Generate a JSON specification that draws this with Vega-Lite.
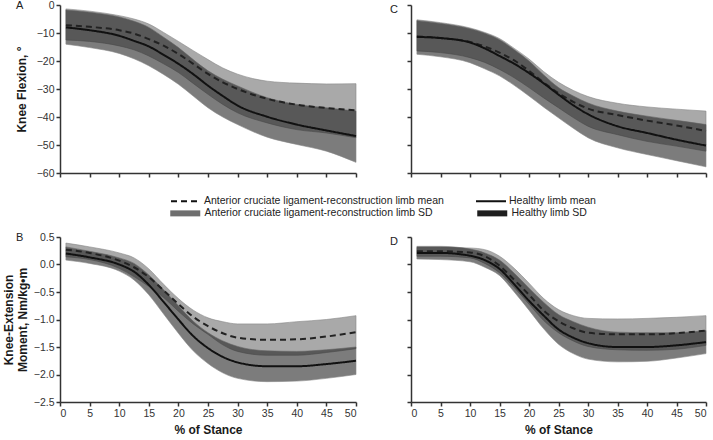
{
  "$schema": "https://vega.github.io/schema/vega-lite/v6.json",
  "padding": {"left": 2, "top": 0, "right": 0, "bottom": 0},
  "background": "white",
  "config": {
    "view": {"stroke": null},
    "font": "Liberation Sans",
    "axis": {"domainColor": "#333333", "domainWidth": 1.5, "tickColor": "#333333", "tickWidth": 1.5, "tickSize": 4, "labelFont": "Liberation Sans", "labelFontSize": 10.5, "labelColor": "#333333", "labelPadding": 2, "labelOverlap": false, "titleFont": "Liberation Sans", "titleFontSize": 12, "titleFontWeight": "bold", "titleColor": "#1a1a1a", "grid": false},
    "axisX": {"titlePadding": 6},
    "title": {"font": "Liberation Sans", "color": "#222222"},
    "legend": {"labelFont": "Liberation Sans", "labelFontSize": 10.5, "labelColor": "#222222", "labelLimit": 400, "symbolSize": 100, "labelOffset": 22, "rowPadding": 2}
  },
  "data": {"values": [
    {"panel":"A","x":1,"ahi":-1.4,"am":-7.2,"alo":-12.5,"hhi":-1.8,"hm":-8,"hlo":-14},
    {"panel":"A","x":5,"ahi":-2.2,"am":-7.8,"alo":-13,"hhi":-2.6,"hm":-9,"hlo":-15.2},
    {"panel":"A","x":10,"ahi":-3.8,"am":-9,"alo":-14.6,"hhi":-4.3,"hm":-11,"hlo":-17.3},
    {"panel":"A","x":12.5,"ahi":-5,"am":-10.2,"alo":-16,"hhi":-5.8,"hm":-12.8,"hlo":-19.2},
    {"panel":"A","x":15,"ahi":-6.8,"am":-12.2,"alo":-18.2,"hhi":-8,"hm":-14.8,"hlo":-21.7},
    {"panel":"A","x":17.5,"ahi":-9.8,"am":-14.5,"alo":-21,"hhi":-11.5,"hm":-17.8,"hlo":-24.8},
    {"panel":"A","x":20,"ahi":-13,"am":-17.5,"alo":-24.1,"hhi":-15.2,"hm":-21,"hlo":-28.3},
    {"panel":"A","x":22.5,"ahi":-16.3,"am":-21,"alo":-28,"hhi":-19.5,"hm":-24.7,"hlo":-32.5},
    {"panel":"A","x":25,"ahi":-19.5,"am":-24.6,"alo":-31.9,"hhi":-23.5,"hm":-28.8,"hlo":-36.7},
    {"panel":"A","x":27.5,"ahi":-22.5,"am":-27.6,"alo":-35.5,"hhi":-26.5,"hm":-32.5,"hlo":-40},
    {"panel":"A","x":30,"ahi":-24.7,"am":-30,"alo":-38.5,"hhi":-28.9,"hm":-35.9,"hlo":-42.7},
    {"panel":"A","x":35,"ahi":-27.2,"am":-33.5,"alo":-42.1,"hhi":-33.1,"hm":-39.9,"hlo":-47.2},
    {"panel":"A","x":40,"ahi":-27.9,"am":-35.6,"alo":-44.5,"hhi":-35.5,"hm":-42.7,"hlo":-49.8},
    {"panel":"A","x":45,"ahi":-28.2,"am":-36.8,"alo":-45.7,"hhi":-36.7,"hm":-44.8,"hlo":-52.2},
    {"panel":"A","x":50,"ahi":-28.1,"am":-37.6,"alo":-47.4,"hhi":-37.9,"hm":-46.8,"hlo":-56.2},
    {"panel":"C","x":1,"ahi":-5.3,"am":-11.2,"alo":-16.4,"hhi":-5.6,"hm":-11.4,"hlo":-17.6},
    {"panel":"C","x":5,"ahi":-6.3,"am":-11.8,"alo":-17,"hhi":-6.6,"hm":-11.8,"hlo":-18.5},
    {"panel":"C","x":10,"ahi":-8.2,"am":-13.2,"alo":-18.8,"hhi":-8.5,"hm":-13.4,"hlo":-20.6},
    {"panel":"C","x":12.5,"ahi":-9.8,"am":-14.8,"alo":-20.5,"hhi":-10.1,"hm":-15.5,"hlo":-22.8},
    {"panel":"C","x":15,"ahi":-12,"am":-17,"alo":-23,"hhi":-12.4,"hm":-18.2,"hlo":-25.3},
    {"panel":"C","x":17.5,"ahi":-15.5,"am":-19.8,"alo":-26,"hhi":-16,"hm":-21,"hlo":-28.7},
    {"panel":"C","x":20,"ahi":-19.3,"am":-23.5,"alo":-29.5,"hhi":-20,"hm":-24.3,"hlo":-32.5},
    {"panel":"C","x":22.5,"ahi":-23.8,"am":-27.7,"alo":-33.2,"hhi":-25,"hm":-28,"hlo":-36.5},
    {"panel":"C","x":25,"ahi":-27.6,"am":-31.5,"alo":-36.7,"hhi":-29.5,"hm":-32,"hlo":-40.3},
    {"panel":"C","x":27.5,"ahi":-30.5,"am":-34.6,"alo":-40.2,"hhi":-32.5,"hm":-35.8,"hlo":-44},
    {"panel":"C","x":30,"ahi":-32.7,"am":-37,"alo":-43.3,"hhi":-35,"hm":-39,"hlo":-47.4},
    {"panel":"C","x":35,"ahi":-35.1,"am":-39.3,"alo":-46.3,"hhi":-37.9,"hm":-43.3,"hlo":-51},
    {"panel":"C","x":40,"ahi":-36.4,"am":-41.3,"alo":-48.7,"hhi":-39.7,"hm":-45.7,"hlo":-53.4},
    {"panel":"C","x":45,"ahi":-37.2,"am":-43,"alo":-50.4,"hhi":-41.2,"hm":-48.1,"hlo":-55.6},
    {"panel":"C","x":50,"ahi":-37.9,"am":-45,"alo":-52.2,"hhi":-42.7,"hm":-50.2,"hlo":-57.8},
    {"panel":"B","x":1,"ahi":0.39,"am":0.27,"alo":0.14,"hhi":0.32,"hm":0.2,"hlo":0.08},
    {"panel":"B","x":5,"ahi":0.32,"am":0.21,"alo":0.09,"hhi":0.24,"hm":0.13,"hlo":0.02},
    {"panel":"B","x":10,"ahi":0.21,"am":0.07,"alo":-0.07,"hhi":0.12,"hm":0,"hlo":-0.12},
    {"panel":"B","x":12.5,"ahi":0.12,"am":-0.05,"alo":-0.22,"hhi":0.02,"hm":-0.13,"hlo":-0.28},
    {"panel":"B","x":15,"ahi":-0.08,"am":-0.23,"alo":-0.4,"hhi":-0.19,"hm":-0.37,"hlo":-0.55},
    {"panel":"B","x":17.5,"ahi":-0.36,"am":-0.47,"alo":-0.6,"hhi":-0.46,"hm":-0.68,"hlo":-0.9},
    {"panel":"B","x":20,"ahi":-0.62,"am":-0.72,"alo":-0.85,"hhi":-0.75,"hm":-1,"hlo":-1.25},
    {"panel":"B","x":22.5,"ahi":-0.83,"am":-0.95,"alo":-1.08,"hhi":-1.03,"hm":-1.3,"hlo":-1.57},
    {"panel":"B","x":25,"ahi":-0.97,"am":-1.12,"alo":-1.27,"hhi":-1.24,"hm":-1.52,"hlo":-1.8},
    {"panel":"B","x":27.5,"ahi":-1.04,"am":-1.25,"alo":-1.46,"hhi":-1.39,"hm":-1.68,"hlo":-1.97},
    {"panel":"B","x":30,"ahi":-1.08,"am":-1.33,"alo":-1.58,"hhi":-1.49,"hm":-1.78,"hlo":-2.07},
    {"panel":"B","x":35,"ahi":-1.08,"am":-1.37,"alo":-1.65,"hhi":-1.57,"hm":-1.85,"hlo":-2.13},
    {"panel":"B","x":40,"ahi":-1.04,"am":-1.36,"alo":-1.65,"hhi":-1.58,"hm":-1.85,"hlo":-2.12},
    {"panel":"B","x":45,"ahi":-1,"am":-1.31,"alo":-1.6,"hhi":-1.55,"hm":-1.81,"hlo":-2.07},
    {"panel":"B","x":50,"ahi":-0.93,"am":-1.23,"alo":-1.53,"hhi":-1.5,"hm":-1.75,"hlo":-2},
    {"panel":"D","x":1,"ahi":0.31,"am":0.24,"alo":0.15,"hhi":0.33,"hm":0.21,"hlo":0.1},
    {"panel":"D","x":5,"ahi":0.31,"am":0.24,"alo":0.15,"hhi":0.33,"hm":0.21,"hlo":0.09},
    {"panel":"D","x":10,"ahi":0.3,"am":0.22,"alo":0.12,"hhi":0.28,"hm":0.16,"hlo":0.05},
    {"panel":"D","x":12.5,"ahi":0.27,"am":0.15,"alo":0.02,"hhi":0.21,"hm":0.08,"hlo":-0.05},
    {"panel":"D","x":15,"ahi":0.15,"am":-0.02,"alo":-0.15,"hhi":0.08,"hm":-0.08,"hlo":-0.2},
    {"panel":"D","x":17.5,"ahi":-0.07,"am":-0.28,"alo":-0.42,"hhi":-0.16,"hm":-0.36,"hlo":-0.5},
    {"panel":"D","x":20,"ahi":-0.34,"am":-0.55,"alo":-0.72,"hhi":-0.43,"hm":-0.66,"hlo":-0.83},
    {"panel":"D","x":22.5,"ahi":-0.62,"am":-0.84,"alo":-1.02,"hhi":-0.69,"hm":-0.93,"hlo":-1.17},
    {"panel":"D","x":25,"ahi":-0.82,"am":-1.03,"alo":-1.24,"hhi":-0.91,"hm":-1.18,"hlo":-1.45},
    {"panel":"D","x":27.5,"ahi":-0.93,"am":-1.16,"alo":-1.39,"hhi":-1.04,"hm":-1.33,"hlo":-1.62},
    {"panel":"D","x":30,"ahi":-0.98,"am":-1.24,"alo":-1.49,"hhi":-1.14,"hm":-1.43,"hlo":-1.72},
    {"panel":"D","x":35,"ahi":-0.99,"am":-1.27,"alo":-1.55,"hhi":-1.23,"hm":-1.5,"hlo":-1.77},
    {"panel":"D","x":40,"ahi":-0.98,"am":-1.27,"alo":-1.56,"hhi":-1.24,"hm":-1.5,"hlo":-1.76},
    {"panel":"D","x":45,"ahi":-0.96,"am":-1.25,"alo":-1.54,"hhi":-1.24,"hm":-1.47,"hlo":-1.7},
    {"panel":"D","x":50,"ahi":-0.93,"am":-1.2,"alo":-1.47,"hhi":-1.2,"hm":-1.41,"hlo":-1.62}
  ]},
  "columns": 2,
  "spacing": {"column": 55, "row": 64},
  "bounds": "flush",
  "resolve": {"scale": {"x": "independent", "y": "independent", "fill": "shared", "strokeDash": "shared"}},
  "concat": [
    {
      "width": 296, "height": 168,
      "title": {"text": "A", "anchor": "start", "frame": "group", "dx": -44, "dy": 17, "fontSize": 11, "fontWeight": "normal", "baseline": "middle", "offset": 0},
      "transform": [{"filter": {"field": "panel", "equal": "A"}}],
      "encoding": {"x": {"field": "x", "type": "quantitative", "scale": {"domain": [0, 50], "nice": false, "zero": false}, "axis": {"values": [0,5,10,15,20,25,30,35,40,45,50], "labels": false, "title": null}}},
      "layer": [
        {"mark": {"type": "area", "interpolate": "monotone", "opacity": 0.59, "stroke": "#333333", "strokeWidth": 0.6},
         "encoding": {
           "y": {"field": "alo", "type": "quantitative", "scale": {"domain": [-60, 0], "nice": false}, "axis": {"values": [-60,-50,-40,-30,-20,-10,0], "labelOverlap": false, "title": "Knee Flexion, °", "titlePadding": 8}},
           "y2": {"field": "ahi"},
           "fill": {"datum": "Anterior cruciate ligament-reconstruction limb SD", "type": "nominal",
             "scale": {"domain": ["Anterior cruciate ligament-reconstruction limb SD", "Healthy limb SD"], "range": ["#6e6e6e", "#1e1e1e"]},
             "legend": {"orient": "none", "legendX": 110, "legendY": 203, "columns": 2, "title": null, "columnPadding": 44, "labelOffset": 24, "symbolType": "M-1,-0.6H5V0.6H-1Z", "symbolOpacity": 1, "symbolStrokeWidth": 0}}
         }},
        {"mark": {"type": "area", "interpolate": "monotone", "opacity": 0.58, "stroke": "#333333", "strokeWidth": 0.6},
         "encoding": {"y": {"field": "hlo", "type": "quantitative", "axis": {"values": [-60,-50,-40,-30,-20,-10,0], "labelOverlap": false, "title": "Knee Flexion, °", "titlePadding": 8}}, "y2": {"field": "hhi"}, "fill": {"datum": "Healthy limb SD", "type": "nominal"}}},
        {"mark": {"type": "line", "interpolate": "monotone", "strokeWidth": 2, "color": "#222222"},
         "encoding": {"y": {"field": "am", "type": "quantitative", "axis": {"values": [-60,-50,-40,-30,-20,-10,0], "labelOverlap": false, "title": "Knee Flexion, °", "titlePadding": 8}},
           "strokeDash": {"datum": "Anterior cruciate ligament-reconstruction limb mean", "type": "nominal",
             "scale": {"domain": ["Anterior cruciate ligament-reconstruction limb mean", "Healthy limb mean"], "range": [[6, 4], [1, 0]]},
             "legend": {"orient": "none", "legendX": 110, "legendY": 190, "columns": 2, "title": null, "columnPadding": 28, "symbolType": "M-1,0H5", "symbolStrokeWidth": 2, "symbolStrokeColor": "#222222", "symbolOpacity": 1}}}},
        {"mark": {"type": "line", "interpolate": "monotone", "strokeWidth": 2, "color": "#111111"},
         "encoding": {"y": {"field": "hm", "type": "quantitative", "axis": {"values": [-60,-50,-40,-30,-20,-10,0], "labelOverlap": false, "title": "Knee Flexion, °", "titlePadding": 8}}, "strokeDash": {"datum": "Healthy limb mean", "type": "nominal"}}}
      ]
    },
    {
      "width": 295, "height": 168,
      "title": {"text": "C", "anchor": "start", "frame": "group", "dx": -21, "dy": 17, "fontSize": 11, "fontWeight": "normal", "baseline": "middle", "offset": 0},
      "transform": [{"filter": {"field": "panel", "equal": "C"}}],
      "encoding": {"x": {"field": "x", "type": "quantitative", "scale": {"domain": [0, 50], "nice": false, "zero": false}, "axis": {"values": [0,5,10,15,20,25,30,35,40,45,50], "labels": false, "title": null}}},
      "layer": [
        {"mark": {"type": "area", "interpolate": "monotone", "opacity": 0.59, "stroke": "#333333", "strokeWidth": 0.6},
         "encoding": {"y": {"field": "alo", "type": "quantitative", "scale": {"domain": [-60, 0], "nice": false}, "axis": {"values": [-60,-50,-40,-30,-20,-10,0], "labels": false, "title": null}}, "y2": {"field": "ahi"}, "fill": {"datum": "Anterior cruciate ligament-reconstruction limb SD", "type": "nominal"}}},
        {"mark": {"type": "area", "interpolate": "monotone", "opacity": 0.58, "stroke": "#333333", "strokeWidth": 0.6},
         "encoding": {"y": {"field": "hlo", "type": "quantitative", "axis": {"values": [-60,-50,-40,-30,-20,-10,0], "labels": false, "title": null}}, "y2": {"field": "hhi"}, "fill": {"datum": "Healthy limb SD", "type": "nominal"}}},
        {"mark": {"type": "line", "interpolate": "monotone", "strokeWidth": 2, "color": "#222222"},
         "encoding": {"y": {"field": "am", "type": "quantitative", "axis": {"values": [-60,-50,-40,-30,-20,-10,0], "labels": false, "title": null}}, "strokeDash": {"datum": "Anterior cruciate ligament-reconstruction limb mean", "type": "nominal"}}},
        {"mark": {"type": "line", "interpolate": "monotone", "strokeWidth": 2, "color": "#111111"},
         "encoding": {"y": {"field": "hm", "type": "quantitative", "axis": {"values": [-60,-50,-40,-30,-20,-10,0], "labels": false, "title": null}}, "strokeDash": {"datum": "Healthy limb mean", "type": "nominal"}}}
      ]
    },
    {
      "width": 296, "height": 165,
      "title": {"text": "B", "anchor": "start", "frame": "group", "dx": -44, "dy": 17, "fontSize": 11, "fontWeight": "normal", "baseline": "middle", "offset": 0},
      "transform": [{"filter": {"field": "panel", "equal": "B"}}],
      "encoding": {"x": {"field": "x", "type": "quantitative", "scale": {"domain": [0, 50], "nice": false, "zero": false}, "axis": {"values": [0,5,10,15,20,25,30,35,40,45,50], "labelOverlap": false, "title": "% of Stance"}}},
      "layer": [
        {"mark": {"type": "area", "interpolate": "monotone", "opacity": 0.59, "stroke": "#333333", "strokeWidth": 0.6},
         "encoding": {"y": {"field": "alo", "type": "quantitative", "scale": {"domain": [-2.5, 0.5], "nice": false, "zero": false}, "axis": {"values": [-2.5,-2,-1.5,-1,-0.5,0,0.5], "labelOverlap": false, "format": ".1f", "title": ["Knee-Extension", "Moment, Nm/kg•m"], "titlePadding": 4, "titleLineHeight": 14}}, "y2": {"field": "ahi"}, "fill": {"datum": "Anterior cruciate ligament-reconstruction limb SD", "type": "nominal"}}},
        {"mark": {"type": "area", "interpolate": "monotone", "opacity": 0.58, "stroke": "#333333", "strokeWidth": 0.6},
         "encoding": {"y": {"field": "hlo", "type": "quantitative", "axis": {"values": [-2.5,-2,-1.5,-1,-0.5,0,0.5], "labelOverlap": false, "format": ".1f", "title": ["Knee-Extension", "Moment, Nm/kg•m"], "titlePadding": 4, "titleLineHeight": 14}}, "y2": {"field": "hhi"}, "fill": {"datum": "Healthy limb SD", "type": "nominal"}}},
        {"mark": {"type": "line", "interpolate": "monotone", "strokeWidth": 2, "color": "#222222"},
         "encoding": {"y": {"field": "am", "type": "quantitative", "axis": {"values": [-2.5,-2,-1.5,-1,-0.5,0,0.5], "labelOverlap": false, "format": ".1f", "title": ["Knee-Extension", "Moment, Nm/kg•m"], "titlePadding": 4, "titleLineHeight": 14}}, "strokeDash": {"datum": "Anterior cruciate ligament-reconstruction limb mean", "type": "nominal"}}},
        {"mark": {"type": "line", "interpolate": "monotone", "strokeWidth": 2, "color": "#111111"},
         "encoding": {"y": {"field": "hm", "type": "quantitative", "axis": {"values": [-2.5,-2,-1.5,-1,-0.5,0,0.5], "labelOverlap": false, "format": ".1f", "title": ["Knee-Extension", "Moment, Nm/kg•m"], "titlePadding": 4, "titleLineHeight": 14}}, "strokeDash": {"datum": "Healthy limb mean", "type": "nominal"}}}
      ]
    },
    {
      "width": 295, "height": 165,
      "title": {"text": "D", "anchor": "start", "frame": "group", "dx": -21, "dy": 17, "fontSize": 11, "fontWeight": "normal", "baseline": "middle", "offset": 0},
      "transform": [{"filter": {"field": "panel", "equal": "D"}}],
      "encoding": {"x": {"field": "x", "type": "quantitative", "scale": {"domain": [0, 50], "nice": false, "zero": false}, "axis": {"values": [0,5,10,15,20,25,30,35,40,45,50], "labelOverlap": false, "title": "% of Stance"}}},
      "layer": [
        {"mark": {"type": "area", "interpolate": "monotone", "opacity": 0.59, "stroke": "#333333", "strokeWidth": 0.6},
         "encoding": {"y": {"field": "alo", "type": "quantitative", "scale": {"domain": [-2.5, 0.5], "nice": false, "zero": false}, "axis": {"values": [-2.5,-2,-1.5,-1,-0.5,0,0.5], "labels": false, "title": null}}, "y2": {"field": "ahi"}, "fill": {"datum": "Anterior cruciate ligament-reconstruction limb SD", "type": "nominal"}}},
        {"mark": {"type": "area", "interpolate": "monotone", "opacity": 0.58, "stroke": "#333333", "strokeWidth": 0.6},
         "encoding": {"y": {"field": "hlo", "type": "quantitative", "axis": {"values": [-2.5,-2,-1.5,-1,-0.5,0,0.5], "labels": false, "title": null}}, "y2": {"field": "hhi"}, "fill": {"datum": "Healthy limb SD", "type": "nominal"}}},
        {"mark": {"type": "line", "interpolate": "monotone", "strokeWidth": 2, "color": "#222222"},
         "encoding": {"y": {"field": "am", "type": "quantitative", "axis": {"values": [-2.5,-2,-1.5,-1,-0.5,0,0.5], "labels": false, "title": null}}, "strokeDash": {"datum": "Anterior cruciate ligament-reconstruction limb mean", "type": "nominal"}}},
        {"mark": {"type": "line", "interpolate": "monotone", "strokeWidth": 2, "color": "#111111"},
         "encoding": {"y": {"field": "hm", "type": "quantitative", "axis": {"values": [-2.5,-2,-1.5,-1,-0.5,0,0.5], "labels": false, "title": null}}, "strokeDash": {"datum": "Healthy limb mean", "type": "nominal"}}}
      ]
    }
  ]
}
